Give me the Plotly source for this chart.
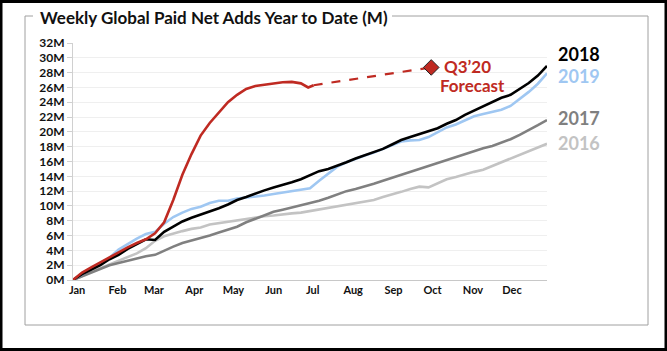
import plotly.graph_objects as go

weeks = list(range(53))
y2016 = [0, 0.6, 1.1, 1.6, 2.1, 2.7, 3.2, 3.6, 4.3, 5.3, 5.9, 6.3, 6.6, 6.9, 7.1, 7.5, 7.7, 7.9, 8.1, 8.3,
         8.5, 8.6, 8.7, 8.9, 9.0, 9.1, 9.3, 9.5, 9.7, 10.0, 10.2, 10.4, 10.6, 10.8, 11.2, 11.5, 11.9, 12.3,
         12.6, 12.5, 13.1, 13.6, 13.9, 14.3, 14.6, 14.9, 15.4, 15.8, 16.4, 16.9, 17.3, 17.8, 18.4]
y2017 = [0, 0.5, 1.0, 1.5, 2.0, 2.3, 2.6, 2.9, 3.2, 3.4, 4.0, 4.5, 5.0, 5.3, 5.6, 6.0, 6.4, 6.8, 7.2, 7.8,
         8.3, 8.8, 9.2, 9.5, 9.8, 10.0, 10.4, 10.7, 11.1, 11.6, 12.0, 12.3, 12.6, 13.0, 13.4, 13.8, 14.2,
         14.6, 15.0, 15.4, 15.8, 16.2, 16.6, 17.1, 17.4, 17.8, 18.1, 18.5, 19.0, 19.6, 20.2, 20.9, 21.6]
y2018 = [0, 0.8, 1.4, 2.0, 2.8, 3.4, 4.2, 4.9, 5.5, 5.4, 6.5, 7.2, 7.9, 8.4, 8.8, 9.3, 9.7, 10.2, 10.8,
         11.2, 11.7, 12.1, 12.5, 12.8, 13.2, 13.6, 14.1, 14.7, 15.0, 15.4, 15.9, 16.4, 16.8, 17.2, 17.7,
         18.3, 18.9, 19.3, 19.7, 20.0, 20.5, 21.1, 21.6, 22.3, 22.9, 23.5, 24.1, 24.6, 25.0, 25.8, 26.6,
         27.6, 28.9]
y2019 = [0, 0.8, 1.5, 2.2, 3.0, 4.1, 4.9, 5.6, 6.2, 6.5, 7.6, 8.5, 9.1, 9.6, 9.9, 10.4, 10.7, 10.7, 11.0,
         11.1, 11.3, 11.4, 11.6, 11.8, 12.0, 12.2, 12.4, 13.4, 14.3, 15.3, 15.9, 16.4, 16.8, 17.2, 17.7,
         18.2, 18.7, 18.85, 18.9, 19.3, 20.0, 20.6, 21.0, 21.6, 22.1, 22.4, 22.7, 23.0, 23.5, 24.4, 25.4,
         26.5, 27.9]
weeks2020 = list(range(26)) + [25.8, 26.4]
y2020 = [0, 1.0, 1.7, 2.4, 3.0, 3.7, 4.4, 5.0, 5.5, 6.3, 7.8, 10.8, 14.2, 17.0, 19.5, 21.2, 22.6, 24.0,
         25.0, 25.8, 26.2, 26.4, 26.6, 26.7, 26.75, 26.55, 26.0, 26.3]
forecast_week = [26.4, 39.3]
forecast_val = [26.3, 28.7]

months = ["Jan", "Feb", "Mar", "Apr", "May", "Jun", "Jul", "Aug", "Sep", "Oct", "Nov", "Dec"]
month_start_day = [0, 31, 59, 90, 120, 151, 181, 212, 243, 273, 304, 334]
y_ticks = list(range(0, 33, 2))
y_labels = [f"{v}M" for v in y_ticks]

RED = "#bf2a22"
FONT = "Lato"

fig = go.Figure()
series = [("2016", y2016, "#c3c3c3"), ("2017", y2017, "#808080"),
          ("2019", y2019, "#9fc7f2"), ("2018", y2018, "#000000")]
for name, ys, col in series:
    fig.add_trace(go.Scatter(x=weeks, y=ys, mode="lines", name=name,
                             line=dict(color=col, width=2.6)))
fig.add_trace(go.Scatter(x=weeks2020, y=y2020, mode="lines", name="2020",
                         line=dict(color=RED, width=2.6)))
fig.add_trace(go.Scatter(x=forecast_week, y=forecast_val, mode="lines", name="forecast",
                         line=dict(color=RED, width=2.2, dash="dash")))
fig.add_trace(go.Scatter(x=[forecast_week[-1]], y=[forecast_val[-1]], mode="markers",
                         marker=dict(symbol="diamond", size=12, color=RED,
                                     line=dict(color="#222222", width=1))))

# end labels
end_labels = [("2018", 30.5, "#000000"), ("2019", 27.5, "#9fc7f2"),
              ("2017", 21.9, "#808080"), ("2016", 18.5, "#c3c3c3")]
for txt, yv, col in end_labels:
    fig.add_annotation(x=1.02, xref="paper", y=yv, yref="y", text=f"<b>{txt}</b>",
                       showarrow=False, xanchor="left", yanchor="middle",
                       font=dict(family=FONT, size=18, color=col))
fig.add_annotation(x=40.5, y=28.8, text="<b>Q3’20</b>", showarrow=False, xanchor="left",
                   yanchor="middle", font=dict(family=FONT, size=17, color=RED))
fig.add_annotation(x=40.0, y=26.3, text="<b>Forecast</b>", showarrow=False, xanchor="left",
                   yanchor="middle", font=dict(family=FONT, size=17, color=RED))

L, T, PW, PH = 73, 43, 474, 237
def px(x):
    return (x - L) / PW
def py(y):
    return (T + PH - y) / PH

fig.add_annotation(x=px(38), y=py(17), xref="paper", yref="paper",
                   text="<b>Weekly Global Paid Net Adds Year to Date (M)</b>", showarrow=False,
                   xanchor="left", yanchor="middle", font=dict(family=FONT, size=17, color="#111111"))

gray = dict(color="#a0a0a0", width=1)
shapes = [
    dict(type="line", xref="paper", yref="paper", x0=px(25), x1=px(25), y0=py(16), y1=py(325), line=gray),
    dict(type="line", xref="paper", yref="paper", x0=px(648), x1=px(648), y0=py(16), y1=py(325), line=gray),
    dict(type="line", xref="paper", yref="paper", x0=px(25), x1=px(648), y0=py(325), y1=py(325), line=gray),
    dict(type="line", xref="paper", yref="paper", x0=px(25), x1=px(33), y0=py(16), y1=py(16), line=gray),
    dict(type="line", xref="paper", yref="paper", x0=px(392), x1=px(648), y0=py(16), y1=py(16), line=gray),
    dict(type="rect", xref="paper", yref="paper", x0=px(1), x1=px(666), y0=py(1.5), y1=py(349.5),
         line=dict(color="#000000", width=3)),
]

fig.update_layout(
    width=667, height=351, margin=dict(l=L, r=667 - L - PW, t=T, b=351 - T - PH),
    paper_bgcolor="white", plot_bgcolor="white", showlegend=False, shapes=shapes,
    xaxis=dict(range=[0, 52], tickvals=[d / 7 + 0.45 for d in month_start_day],
               ticktext=[f"<b>{m}</b>" for m in months],
               showgrid=False, zeroline=False, showline=True, linecolor="#c8c8c8", linewidth=1,
               ticks="", tickfont=dict(family=FONT, size=11, color="#111111"), tickangle=0),
    yaxis=dict(range=[0, 32], tickvals=y_ticks, ticktext=[f"<b>{s}</b>" for s in y_labels],
               showgrid=True, gridcolor="#efefef", gridwidth=1, zeroline=False,
               showline=True, linecolor="#d0d0d0", ticks="outside", ticklen=5, tickcolor="#d0d0d0",
               tickfont=dict(family=FONT, size=12, color="#111111")),
)
fig.write_html("out.html")
